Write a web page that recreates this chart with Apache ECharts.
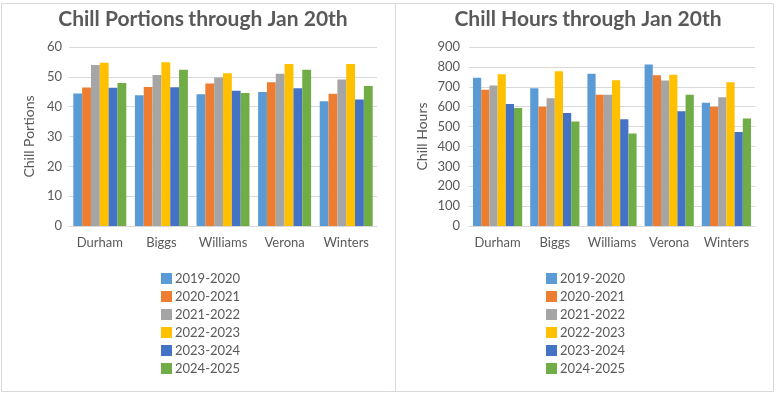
<!DOCTYPE html>
<html>
<head>
<meta charset="utf-8">
<script src="https://cdn.jsdelivr.net/npm/echarts@6/dist/echarts.min.js"></script>
<style>
html,body{margin:0;padding:0;background:#fff;}
#c{width:777px;height:395px;}
</style>
</head>
<body>
<div id="c"></div>
<script>
const categories = ['Durham', 'Biggs', 'Williams', 'Verona', 'Winters'];
const seasons = ['2019-2020', '2020-2021', '2021-2022', '2022-2023', '2023-2024', '2024-2025'];
const colors = ['#5B9BD5', '#ED7D31', '#A5A5A5', '#FFC000', '#4472C4', '#70AD47'];

// Chill Portions per season (values per category)
const portions2019 = [44.4, 43.8, 44.2, 44.9, 41.8];
const portions2020 = [46.4, 46.6, 47.8, 48.2, 44.3];
const portions2021 = [54.0, 50.6, 49.8, 51.0, 49.1];
const portions2022 = [54.7, 54.9, 51.2, 54.3, 54.3];
const portions2023 = [46.3, 46.5, 45.3, 46.2, 42.4];
const portions2024 = [47.9, 52.4, 44.6, 52.4, 46.9];

// Chill Hours per season
const hours2019 = [745, 692, 765, 812, 620];
const hours2020 = [685, 600, 660, 758, 600];
const hours2021 = [707, 642, 660, 732, 647];
const hours2022 = [763, 778, 733, 760, 723];
const hours2023 = [613, 568, 537, 577, 473];
const hours2024 = [593, 525, 465, 660, 540];

const portionsTicks = {min: 0, max: 60, interval: 10};
const hoursTicks = {min: 0, max: 900, interval: 100};

const portions = [portions2019, portions2020, portions2021, portions2022, portions2023, portions2024];
const hours = [hours2019, hours2020, hours2021, hours2022, hours2023, hours2024];

const FONT = 'Lato';
const TXT = '#595959';
const GRID = '#d9d9d9';

function xAx(gi) {
  return {
    type: 'category', gridIndex: gi, data: categories,
    axisTick: {show: false},
    axisLine: {lineStyle: {color: GRID, width: 1}},
    axisLabel: {color: TXT, fontSize: 13, fontFamily: FONT, margin: 10, interval: 0}
  };
}
function yAx(gi, t, name, gap, lm) {
  return {
    type: 'value', gridIndex: gi, min: t.min, max: t.max, interval: t.interval,
    name: name, nameLocation: 'middle', nameGap: gap, nameRotate: 90,
    nameTextStyle: {color: TXT, fontSize: 14, fontFamily: FONT},
    axisLine: {show: false}, axisTick: {show: false},
    axisLabel: {color: TXT, fontSize: 13, fontFamily: FONT, margin: lm},
    splitLine: {lineStyle: {color: GRID, width: 1}}
  };
}

const series = [];
seasons.forEach((s, i) => {
  series.push({
    name: s, type: 'bar', xAxisIndex: 0, yAxisIndex: 0, data: portions[i],
    barGap: '0%', barCategoryGap: '14%', itemStyle: {color: colors[i]}
  });
});
seasons.forEach((s, i) => {
  series.push({
    name: s, type: 'bar', xAxisIndex: 1, yAxisIndex: 1, data: hours[i],
    barGap: '0%', barCategoryGap: '14%', itemStyle: {color: colors[i]}
  });
});

function legend(left) {
  return {
    data: seasons, orient: 'vertical', left: left, top: 267,
    icon: 'rect', itemWidth: 11, itemHeight: 11, itemGap: 5,
    textStyle: {color: TXT, fontSize: 13, fontFamily: FONT, padding: [0, 0, 0, -2]},
    selectedMode: false
  };
}

const chart = echarts.init(document.getElementById('c'), null, {renderer: 'canvas'});
chart.setOption({
  animation: false,
  color: colors,
  textStyle: {fontFamily: FONT},
  title: [
    {
      text: '{b|Chill Portions} {n|through Jan 20th}',
      left: 198, top: 4, textAlign: 'center',
      textStyle: {rich: {
        b: {fontSize: 21, fontWeight: 'bold', color: TXT, fontFamily: FONT},
        n: {fontSize: 21, color: TXT, fontFamily: FONT}
      }}
    },
    {
      text: '{b|Chill Hours} {n|through Jan 20th}',
      left: 583, top: 4, textAlign: 'center',
      textStyle: {rich: {
        b: {fontSize: 21, fontWeight: 'bold', color: TXT, fontFamily: FONT},
        n: {fontSize: 21, color: TXT, fontFamily: FONT}
      }}
    }
  ],
  graphic: [
    {type: 'rect', shape: {x: 1.5, y: 3.5, width: 772, height: 388}, style: {fill: 'none', stroke: GRID, lineWidth: 1}, silent: true},
    {type: 'line', shape: {x1: 395.5, y1: 3.5, x2: 395.5, y2: 391.5}, style: {stroke: GRID, lineWidth: 1}, silent: true}
  ],
  grid: [
    {left: 69, right: 400, top: 47, bottom: 169},
    {left: 469, right: 22, top: 47, bottom: 169}
  ],
  xAxis: [xAx(0), xAx(1)],
  yAxis: [yAx(0, portionsTicks, 'Chill Portions', 33, 7), yAx(1, hoursTicks, 'Chill Hours', 40, 9)],
  legend: [legend(156), legend(541)],
  series: series
});
</script>
</body>
</html>
